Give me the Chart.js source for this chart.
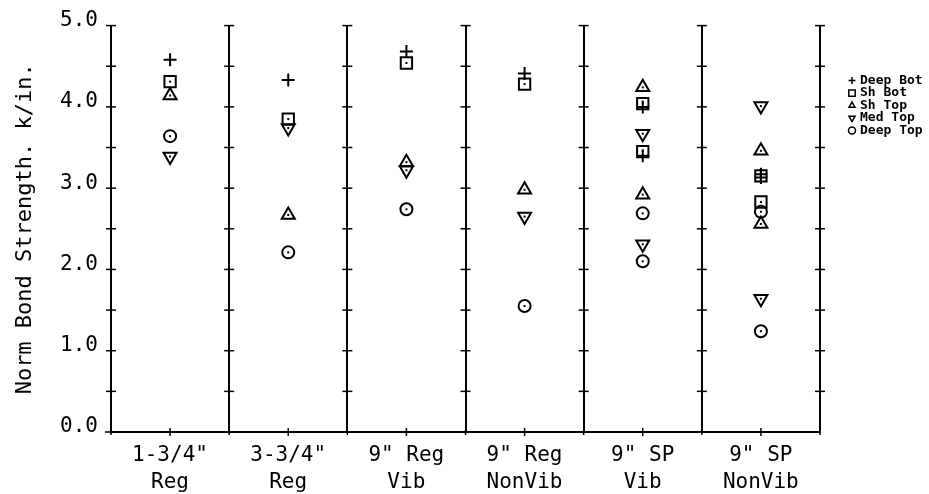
<!DOCTYPE html>
<html>
<head>
<meta charset="utf-8">
<script src="https://cdn.jsdelivr.net/npm/chart.js@4.4.0/dist/chart.umd.min.js"></script>
<style>
  html, body { margin: 0; padding: 0; background: #fff; }
  #wrap { width: 929px; height: 494px; }
</style>
</head>
<body>
<div id="wrap"><canvas id="bondChart"></canvas></div>
<script>
const categories = [
  ['1-3/4"', 'Reg'],
  ['3-3/4"', 'Reg'],
  ['9" Reg', 'Vib'],
  ['9" Reg', 'NonVib'],
  ['9" SP', 'Vib'],
  ['9" SP', 'NonVib'],
];
const seriesNames = ['Deep Bot', 'Sh Bot', 'Sh Top', 'Med Top', 'Deep Top'];

// readings per category (the SP columns have two readings each)
const deepBot = [[4.58], [4.33], [4.68], [4.41], [4.00, 3.40], [3.17, 3.13]];
const shBot   = [[4.31], [3.85], [4.54], [4.28], [4.04, 3.45], [3.15, 2.83]];
const shTop   = [[4.14], [2.67], [3.32], [2.98], [4.24, 2.92], [3.46, 2.56]];
const medTop  = [[3.39], [3.74], [3.22], [2.65], [3.67, 2.31], [4.01, 1.64]];
const deepTop = [[3.64], [2.21], [2.74], [1.55], [2.69, 2.10], [2.71, 1.24]];

const yTicks = [0, 1, 2, 3, 4, 5];

const FONT = 'DejaVu Sans Mono';

// each category occupies one unit on the x axis, points sit at its centre
function toPoints(series) {
  const pts = [];
  series.forEach((vals, i) => {
    vals.forEach((v) => pts.push({ x: i + 0.5, y: v }));
  });
  return pts;
}

const styles = [
  { pointStyle: 'cross', radius: 6.5, rotation: 0 },
  { pointStyle: 'rect', radius: 8, rotation: 0 },
  { pointStyle: 'triangle', radius: 7.5, rotation: 0 },
  { pointStyle: 'triangle', radius: 7.5, rotation: 180 },
  { pointStyle: 'circle', radius: 6, rotation: 0 },
];

const allSeries = [deepBot, shBot, shTop, medTop, deepTop];

const datasets = allSeries.map((s, i) => ({
  label: seriesNames[i],
  data: toPoints(s),
  pointStyle: styles[i].pointStyle,
  pointRadius: styles[i].radius,
  pointRotation: styles[i].rotation,
  pointBorderWidth: 2,
  pointBorderColor: '#000',
  pointBackgroundColor: 'rgba(255,255,255,0)',
  showLine: false,
}));

// tick crosses along the vertical lines and bottom axis
const tickMarks = {
  id: 'tickMarks',
  afterDraw(chart) {
    const { ctx, scales: { x, y } } = chart;
    ctx.save();
    ctx.strokeStyle = '#000';
    ctx.lineWidth = 1.5;
    const line = (x1, y1, x2, y2) => {
      ctx.beginPath();
      ctx.moveTo(x1, y1);
      ctx.lineTo(x2, y2);
      ctx.stroke();
    };
    const bottom = y.getPixelForValue(0);
    for (let i = 0; i <= categories.length; i++) {
      const px = x.getPixelForValue(i);
      for (let v = 0.5; v <= 5; v += 0.5) {
        const py = y.getPixelForValue(v);
        line(px - 5, py, px + 5, py);
      }
      line(px, bottom - 2, px, bottom + 3);
    }
    for (let i = 0; i < categories.length; i++) {
      const px = x.getPixelForValue(i + 0.5);
      line(px, bottom - 4, px, bottom + 4);
    }
    const left = x.getPixelForValue(0);
    line(left - 6, bottom, left, bottom);
    ctx.restore();
  },
};

// small centre dots inside the open markers
const centreDots = {
  id: 'centreDots',
  afterDatasetsDraw(chart) {
    const { ctx } = chart;
    ctx.save();
    ctx.fillStyle = '#000';
    chart.data.datasets.forEach((ds, di) => {
      if (ds.pointStyle === 'cross') return;
      chart.getDatasetMeta(di).data.forEach((pt) => {
        ctx.fillRect(pt.x - 1, pt.y - 1, 2, 2);
      });
    });
    ctx.restore();
  },
};

const sideLegend = {
  id: 'sideLegend',
  afterDraw(chart) {
    const { ctx, chartArea } = chart;
    ctx.save();
    ctx.font = 'bold 13px "' + FONT + '"';
    ctx.strokeStyle = '#000';
    ctx.textBaseline = 'middle';
    chart.data.datasets.forEach((ds, i) => {
      const yy = chartArea.top + 55 + i * 12.5;
      const xx = chartArea.right + 32;
      ctx.lineWidth = 1.5;
      ctx.fillStyle = '#fff';
      Chart.helpers.drawPoint(ctx, {
        pointStyle: ds.pointStyle,
        radius: ds.pointStyle === 'rect' ? 4.5 : 3.5,
        rotation: ds.pointRotation,
        borderWidth: 1.5,
      }, xx, yy);
      ctx.fillStyle = '#000';
      ctx.fillText(ds.label, xx + 8, yy);
    });
    ctx.restore();
  },
};

new Chart(document.getElementById('bondChart'), {
  type: 'scatter',
  data: { datasets },
  options: {
    responsive: true,
    maintainAspectRatio: false,
    animation: false,
    layout: { padding: { left: 0, right: 109, top: 25, bottom: 0 } },
    plugins: {
      legend: { display: false },
      tooltip: { enabled: false },
    },
    scales: {
      x: {
        type: 'linear',
        min: 0,
        max: categories.length,
        afterFit: (scale) => { scale.height = 62; },
        afterBuildTicks: (scale) => {
          scale.ticks = categories.map((c, i) => ({ value: i })).concat([{ value: categories.length }]);
        },
        grid: { color: '#000', lineWidth: 2, drawTicks: false },
        border: { display: true, color: '#000', width: 2 },
        ticks: {
          color: '#000',
          padding: 10,
          maxRotation: 0,
          autoSkip: false,
          labelOffset: 59,
          font: { family: FONT, size: 21, lineHeight: 1.3 },
          callback: (v) => categories[v] || '',
        },
      },
      y: {
        min: 0,
        max: 5,
        afterFit: (scale) => { scale.width = 111; },
        afterBuildTicks: (scale) => { scale.ticks = yTicks.map((v) => ({ value: v })); },
        grid: { display: false, drawTicks: false },
        border: { display: true, color: '#000', width: 2 },
        ticks: {
          color: '#000',
          padding: 13,
          labelOffset: -5,
          font: { family: FONT, size: 21 },
          callback: (v) => Number(v).toFixed(1),
        },
        title: {
          display: true,
          text: 'Norm Bond Strength. k/in.',
          color: '#000',
          padding: { top: 12, bottom: 0 },
          font: { family: FONT, size: 22 },
        },
      },
    },
  },
  plugins: [tickMarks, centreDots, sideLegend],
});
</script>
</body>
</html>
